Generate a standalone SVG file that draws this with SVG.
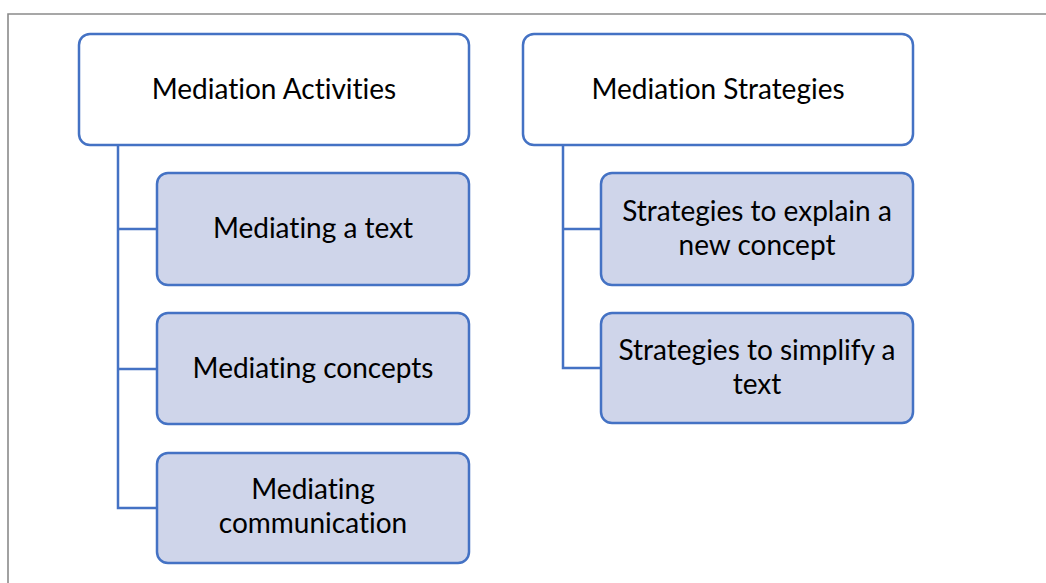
<svg xmlns="http://www.w3.org/2000/svg" width="1046" height="583" viewBox="0 0 1046 583">
  <style>
    .frame { fill: none; stroke: #8a8a8a; stroke-width: 1.6; }
    .hdr { fill: #ffffff; stroke: #4472c4; stroke-width: 2.5; }
    .child { fill: #cfd5ea; stroke: #4472c4; stroke-width: 2.5; }
    .conn { fill: none; stroke: #4472c4; stroke-width: 2.5; }
    .lbl { font-family: Lato, "Open Sans", "Liberation Sans", sans-serif; font-size: 28px; fill: #000000; text-anchor: middle; font-variant-ligatures: none; }
  </style>
  <rect x="0" y="0" width="1046" height="583" fill="#ffffff"/>
  <path class="frame" d="M1046 14 H8 V583"/>

  <g id="connectors">
    <path class="conn" d="M118 145 V508 H157"/>
    <path class="conn" d="M118 229 H157"/>
    <path class="conn" d="M118 369 H157"/>
    <path class="conn" d="M563 145 V368 H601"/>
    <path class="conn" d="M563 229 H601"/>
  </g>

  <g id="mediation-activities">
    <rect class="hdr" x="79" y="34" width="390" height="111" rx="11"/>
    <text class="lbl" x="274" y="99">Mediation Activities</text>
  </g>
  <g id="mediating-a-text">
    <rect class="child" x="157" y="173" width="312" height="112" rx="11"/>
    <text class="lbl" x="313" y="238">Mediating a text</text>
  </g>
  <g id="mediating-concepts">
    <rect class="child" x="157" y="313" width="312" height="111" rx="11"/>
    <text class="lbl" x="313" y="378">Mediating concepts</text>
  </g>
  <g id="mediating-communication">
    <rect class="child" x="157" y="453" width="312" height="110" rx="11"/>
    <text class="lbl" x="313" y="499">Mediating</text>
    <text class="lbl" x="313" y="533">communication</text>
  </g>

  <g id="mediation-strategies">
    <rect class="hdr" x="523" y="34" width="390" height="111" rx="11"/>
    <text class="lbl" x="718" y="99">Mediation Strategies</text>
  </g>
  <g id="strategies-explain">
    <rect class="child" x="601" y="173" width="312" height="112" rx="11"/>
    <text class="lbl" x="757" y="221">Strategies to explain a</text>
    <text class="lbl" x="757" y="255">new concept</text>
  </g>
  <g id="strategies-simplify">
    <rect class="child" x="601" y="313" width="312" height="110" rx="11"/>
    <text class="lbl" x="757" y="360">Strategies to simplify a</text>
    <text class="lbl" x="757" y="394">text</text>
  </g>
</svg>
